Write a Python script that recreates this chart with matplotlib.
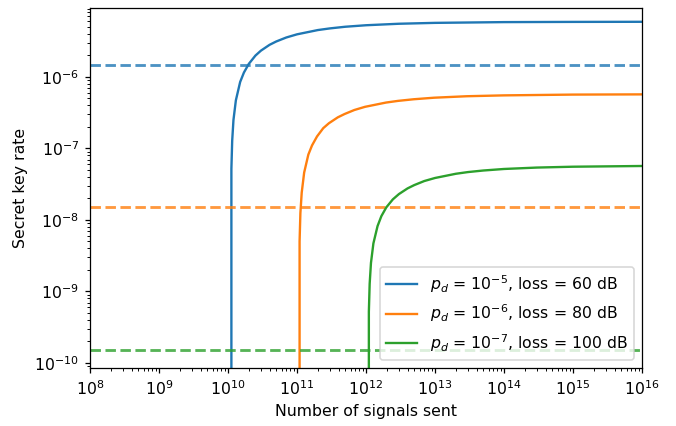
import matplotlib
matplotlib.use('Agg')
import matplotlib.pyplot as plt
from matplotlib.ticker import NullFormatter

# values (log-log axes)
n_blue = [1.1e10, 1.12e10, 1.15e10, 1.2e10, 1.3e10, 1.5e10, 1.7e10, 2e10, 2.5e10, 3e10,
          4e10, 5e10, 7e10, 1e11, 2e11, 3e11, 5e11, 1e12, 3e12, 1e13, 1e14, 1e15, 1e16]
r_blue = [0, 5.2e-8, 1.28e-7, 2.5e-7, 4.7e-7, 8.5e-7, 1.15e-6, 1.52e-6, 1.99e-6, 2.33e-6,
          2.81e-6, 3.13e-6, 3.56e-6, 3.94e-6, 4.52e-6, 4.77e-6, 5.03e-6, 5.28e-6, 5.54e-6,
          5.7e-6, 5.84e-6, 5.88e-6, 5.9e-6]

n_orange = [1.07e11, 1.09e11, 1.12e11, 1.17e11, 1.27e11, 1.46e11, 1.65e11, 1.95e11, 2.4e11,
            2.9e11, 3.9e11, 4.9e11, 6.8e11, 9.7e11, 1.95e12, 2.9e12, 4.9e12, 9.7e12, 2.9e13,
            1e14, 1e15, 1e16]
r_orange = [0, 5e-9, 1.25e-8, 2.4e-8, 4.6e-8, 8.2e-8, 1.1e-7, 1.47e-7, 1.92e-7, 2.25e-7,
            2.72e-7, 3.03e-7, 3.45e-7, 3.82e-7, 4.38e-7, 4.62e-7, 4.87e-7, 5.12e-7, 5.37e-7,
            5.52e-7, 5.66e-7, 5.7e-7]

n_green = [1.08e12, 1.1e12, 1.13e12, 1.18e12, 1.28e12, 1.47e12, 1.67e12, 1.97e12, 2.45e12,
           3e12, 4e12, 5e12, 7e12, 1e13, 2e13, 3e13, 5e13, 1e14, 3e14, 1e15, 1e16]
r_green = [0, 5.2e-10, 1.28e-9, 2.5e-9, 4.7e-9, 8.2e-9, 1.13e-8, 1.5e-8, 1.94e-8, 2.3e-8,
           2.76e-8, 3.07e-8, 3.5e-8, 3.86e-8, 4.42e-8, 4.67e-8, 4.91e-8, 5.16e-8, 5.4e-8,
           5.55e-8, 5.68e-8]

asymptotic = [1.47e-6, 1.5e-8, 1.5e-10]
labels = [r'$p_d$ = $10^{-5}$, loss = 60 dB',
          r'$p_d$ = $10^{-6}$, loss = 80 dB',
          r'$p_d$ = $10^{-7}$, loss = 100 dB']
colors = ['tab:blue', 'tab:orange', 'tab:green']

# reference looks like a notebook render at ~113 dpi
dpi = 113
fig = plt.figure(figsize=(676/dpi, 426/dpi), dpi=dpi)
ax = fig.add_axes([90/676, 1-368/426, 552/676, 360/426])

for n, r, lab, col, h in zip([n_blue, n_orange, n_green], [r_blue, r_orange, r_green],
                             labels, colors, asymptotic):
    ax.plot(n, r, color=col, label=lab, lw=1.5)
    ax.axhline(h, color=col, ls='--', lw=1.8, alpha=0.8)

ax.set_xscale('log')
ax.set_yscale('log')
ax.set_xlim(1e8, 1e16)
ax.set_ylim(8.5e-11, 9.2e-6)
ax.xaxis.set_minor_formatter(NullFormatter())
ax.yaxis.set_minor_formatter(NullFormatter())
ax.set_xlabel('Number of signals sent')
ax.set_ylabel('Secret key rate')
ax.legend(loc='lower right')

fig.savefig('out.png', dpi=dpi)
